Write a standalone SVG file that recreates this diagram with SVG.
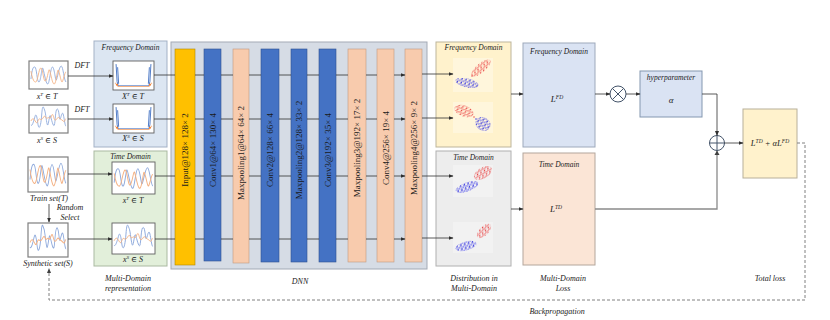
<svg xmlns="http://www.w3.org/2000/svg" width="830" height="320" viewBox="0 0 830 320">
<style>
text{font-family:"Liberation Serif","DejaVu Serif",serif;fill:#1a1a1a}
.it{font-style:italic}
.t7{font-size:7.5px}
.t8{font-size:8px}
.lay{font-size:9px}
.sig{fill:#fff;stroke:#7f7f7f;stroke-width:1.2}
.lnA{fill:none;stroke:#303030;stroke-width:0.8;marker-end:url(#ah)}
.gry{fill:none;stroke:#8a8a8a;stroke-width:1.3}
.dash{fill:none;stroke:#808080;stroke-width:1;stroke-dasharray:3 2}
.blu{fill:#4472c4;stroke:#2f528f;stroke-width:0.6}
.pea{fill:#f8cbad;stroke:#c09a80;stroke-width:0.6}
.yel{fill:#ffc000;stroke:#b08800;stroke-width:0.6}
.pb{fill:none;stroke:#8faadc;stroke-width:0.9;stroke-linejoin:round}
.po{fill:none;stroke:#f4b183;stroke-width:0.9;stroke-linejoin:round}
</style>
<defs>
<marker id="ah" markerWidth="5" markerHeight="4" refX="4.5" refY="2" orient="auto" markerUnits="userSpaceOnUse">
<path d="M0,0 L5,2 L0,4 Z" fill="#303030"/>
</marker>
<pattern id="rd" width="4" height="4" patternUnits="userSpaceOnUse">
<circle cx="0.9" cy="0.9" r="0.75" fill="#e83a3a"/><circle cx="3" cy="1.8" r="0.75" fill="#f05050"/><circle cx="1.6" cy="3.3" r="0.75" fill="#e83a3a"/>
</pattern>
<pattern id="bd" width="4" height="4" patternUnits="userSpaceOnUse">
<circle cx="1" cy="0.8" r="0.75" fill="#2222e0"/><circle cx="3.1" cy="1.9" r="0.75" fill="#3535f0"/><circle cx="1.4" cy="3.2" r="0.75" fill="#2222e0"/>
</pattern>
<symbol id="sigA" viewBox="0 0 40 28" preserveAspectRatio="none">
<path class="pb" d="M2,18 C3,10 4,5 6,6 S8,20 10,21 S13,6 14,7 S17,22 19,23 S22,6 24,6 S27,20 28,19 S31,5 33,5 S36,20 38,21"/>
<path class="po" d="M2,10 C3,16 5,22 7,21 S10,8 12,7 S15,22 17,20 S20,7 21,9 S24,24 26,23 S29,8 30,9 S33,22 34,21 S37,10 38,11"/>
</symbol>
<symbol id="sigB" viewBox="0 0 40 28" preserveAspectRatio="none">
<path class="pb" d="M2,20 C3,22 5,16 6,12 S8,10 9,18 S12,23 13,10 S15,3 16,5 S18,19 19,20 S21,8 22,11 S25,23 26,20 S27,4 29,4 S31,16 32,14 S34,6 35,9 S37,22 38,21"/>
<path class="po" d="M2,16 C4,12 5,14 7,17 S9,13 11,14 S13,15 15,12 S17,15 19,13 S21,16 23,11 S25,15 27,15 S29,11 31,13 S33,14 35,16 S37,13 38,14"/>
</symbol>
<symbol id="frq" viewBox="0 0 40 28" preserveAspectRatio="none">
<path d="M3,3 L4,20 L5,24 L35,24 L36,20 L37,3 M4.5,6 L5.5,22 M35.5,6 L34.5,22" fill="none" stroke="#4472c4" stroke-width="0.9"/>
<path d="M2,21 L5,24.6 L35,24.6 L38,21" fill="none" stroke="#f4b183" stroke-width="1"/>
<circle cx="4" cy="23" r="1" fill="#ed7d31"/><circle cx="36" cy="23" r="1" fill="#ed7d31"/>
</symbol>
</defs>

<!-- Input signals -->
<g id="xT">
<rect class="sig" x="29" y="61" width="39" height="28"/><use href="#sigA" x="29" y="61" width="39" height="28"/>
<text class="it t8" x="47" y="99" text-anchor="middle">x<tspan dy="-3" font-size="5">T</tspan><tspan dy="3"> ∈ T</tspan></text>
</g>
<g id="xS">
<rect class="sig" x="29" y="105" width="39" height="28"/><use href="#sigB" x="29" y="105" width="39" height="28"/>
<text class="it t8" x="47" y="143" text-anchor="middle">x<tspan dy="-3" font-size="5">S</tspan><tspan dy="3"> ∈ S</tspan></text>
</g>
<g id="trainSet">
<rect class="sig" x="28" y="157" width="40" height="35"/><use href="#sigA" x="28" y="157" width="40" height="35"/>
<text class="it t8" x="49" y="201" text-anchor="middle">Train set(T)</text>
</g>
<g id="randomSelect">
<text class="it t8" x="70" y="210" text-anchor="middle">Random</text>
<text class="it t8" x="70" y="220" text-anchor="middle">Select</text>
</g>
<g id="synthSet">
<rect class="sig" x="28" y="223" width="40" height="34"/><use href="#sigB" x="28" y="223" width="40" height="34"/>
<text class="it t8" x="48" y="266" text-anchor="middle">Synthetic set(S)</text>
</g>

<!-- Multi-domain representation -->
<g id="freqDomain">
<rect x="94" y="41" width="73" height="106" fill="#dce6f2" stroke="#a3b1c6" stroke-width="1"/>
<text class="it t7" x="130.5" y="50" text-anchor="middle">Frequency Domain</text>
<rect x="113" y="61" width="41" height="29" fill="#fff" stroke="#606060" stroke-width="0.9"/><use href="#frq" x="113" y="61" width="41" height="29"/>
<text class="it t8" x="133" y="99" text-anchor="middle">X<tspan dy="-3" font-size="5">T</tspan><tspan dy="3"> ∈ T</tspan></text>
<rect x="113" y="104" width="41" height="29" fill="#fff" stroke="#606060" stroke-width="0.9"/><use href="#frq" x="113" y="104" width="41" height="29"/>
<text class="it t8" x="133" y="141" text-anchor="middle">X<tspan dy="-3" font-size="5">S</tspan><tspan dy="3"> ∈ S</tspan></text>
</g>
<g id="timeDomain">
<rect x="94" y="151" width="73" height="115" fill="#e2efda" stroke="#aab9a1" stroke-width="1"/>
<text class="it t7" x="130.5" y="159" text-anchor="middle">Time Domain</text>
<rect x="112" y="162" width="43" height="32" fill="#fff" stroke="#606060" stroke-width="0.9"/><use href="#sigA" x="112" y="162" width="43" height="32"/>
<text class="it t8" x="133" y="203" text-anchor="middle">x<tspan dy="-3" font-size="5">T</tspan><tspan dy="3"> ∈ T</tspan></text>
<rect x="112" y="223" width="43" height="31" fill="#fff" stroke="#606060" stroke-width="0.9"/><use href="#sigB" x="112" y="223" width="43" height="31"/>
<text class="it t8" x="133" y="262" text-anchor="middle">x<tspan dy="-3" font-size="5">S</tspan><tspan dy="3"> ∈ S</tspan></text>
</g>
<g id="mdrLabel">
<text class="it t8" x="128" y="281" text-anchor="middle">Multi-Domain</text>
<text class="it t8" x="128" y="291" text-anchor="middle">representation</text>
</g>

<!-- DNN -->
<g id="dnn">
<rect x="171" y="42" width="256" height="227" fill="#d6dce5" stroke="#a3aab5" stroke-width="1"/>
<text class="it t8" x="300" y="284" text-anchor="middle">DNN</text>
</g>
<g id="input"><rect class="yel" x="175" y="49" width="20" height="216"/><text class="lay" transform="translate(188,150) rotate(-90)" text-anchor="middle">Input@128× 128× 2</text></g>
<g id="conv1"><rect class="blu" x="204" y="49" width="17" height="212"/><text class="lay" transform="translate(215.5,150) rotate(-90)" text-anchor="middle">Conv1@64× 130× 4</text></g>
<g id="mp1"><rect class="pea" x="233" y="49" width="16" height="214"/><text class="lay" transform="translate(244,153) rotate(-90)" text-anchor="middle">Maxpooling1@64× 64× 2</text></g>
<g id="conv2"><rect class="blu" x="261" y="49" width="18" height="213"/><text class="lay" transform="translate(273,150) rotate(-90)" text-anchor="middle">Conv2@128× 66× 4</text></g>
<g id="mp2"><rect class="blu" x="291" y="49" width="16" height="213"/><text class="lay" transform="translate(302,150) rotate(-90)" text-anchor="middle">Maxpooling2@128× 33× 2</text></g>
<g id="conv3"><rect class="blu" x="319" y="49" width="17" height="213"/><text class="lay" transform="translate(330.5,150) rotate(-90)" text-anchor="middle">Conv3@192× 35× 4</text></g>
<g id="mp3"><rect class="pea" x="348" y="49" width="18" height="213"/><text class="lay" transform="translate(360,148) rotate(-90)" text-anchor="middle">Maxpooling3@192× 17× 2</text></g>
<g id="conv4"><rect class="pea" x="377" y="49" width="17" height="213"/><text class="lay" transform="translate(388.5,148) rotate(-90)" text-anchor="middle">Conv4@256× 19× 4</text></g>
<g id="mp4"><rect class="pea" x="405" y="49" width="17" height="213"/><text class="lay" transform="translate(416.5,148) rotate(-90)" text-anchor="middle">Maxpooling4@256× 9× 2</text></g>

<!-- Distribution -->
<g id="distFreq">
<rect x="436" y="42" width="75" height="105" fill="#fff2cc" stroke="#bdb59c" stroke-width="1"/>
<text class="it t7" x="473.5" y="50" text-anchor="middle">Frequency Domain</text>
<rect x="453" y="58" width="40" height="34" fill="#fff6dc"/>
<rect x="453" y="102" width="40" height="31" fill="#fff6dc"/>
<ellipse cx="481" cy="68" rx="12" ry="4.5" transform="rotate(-40 481 68)" fill="url(#rd)"/>
<ellipse cx="467" cy="83" rx="12" ry="4.5" transform="rotate(12 467 83)" fill="url(#bd)"/>
<ellipse cx="464" cy="111" rx="10" ry="5.5" transform="rotate(20 464 111)" fill="url(#rd)"/>
<ellipse cx="483" cy="124" rx="8" ry="6.5" transform="rotate(30 483 124)" fill="url(#bd)"/>
<circle cx="474" cy="117" r="0.7" fill="#e83a3a"/><circle cx="476" cy="119" r="0.7" fill="#2222e0"/><circle cx="472" cy="76" r="0.7" fill="#e83a3a"/>
</g>
<g id="distTime">
<rect x="436" y="151" width="75" height="115" fill="#ededed" stroke="#b0b0b0" stroke-width="1"/>
<text class="it t7" x="473.5" y="160" text-anchor="middle">Time Domain</text>
<rect x="453" y="165" width="40" height="32" fill="#f2f2f2"/>
<rect x="453" y="222" width="40" height="31" fill="#f2f2f2"/>
<ellipse cx="483" cy="173" rx="10" ry="5.5" transform="rotate(-30 483 173)" fill="url(#rd)"/>
<ellipse cx="467" cy="187" rx="12" ry="4.5" transform="rotate(-20 467 187)" fill="url(#bd)"/>
<ellipse cx="484" cy="231" rx="9" ry="4.5" transform="rotate(-45 484 231)" fill="url(#rd)"/>
<ellipse cx="466" cy="246" rx="11" ry="4.5" transform="rotate(-15 466 246)" fill="url(#bd)"/>
</g>
<g id="distLabel">
<text class="it t8" x="474" y="281" text-anchor="middle">Distribution in</text>
<text class="it t8" x="474" y="291" text-anchor="middle">Multi-Domain</text>
</g>

<!-- Losses -->
<g id="lossFD">
<rect x="523" y="43" width="72" height="104" fill="#dae3f3" stroke="#9ea9bb" stroke-width="1"/>
<text class="it t7" x="559" y="54" text-anchor="middle">Frequency Domain</text>
<text class="it" font-size="9" x="557" y="102" text-anchor="middle">L<tspan dy="-3.5" font-size="5.5">FD</tspan></text>
</g>
<g id="lossTD">
<rect x="523" y="153" width="72" height="112" fill="#fbe5d6" stroke="#b3a69c" stroke-width="1"/>
<text class="it t7" x="559" y="167" text-anchor="middle">Time Domain</text>
<text class="it" font-size="9" x="556" y="212" text-anchor="middle">L<tspan dy="-3.5" font-size="5.5">TD</tspan></text>
</g>
<g id="lossLabel">
<text class="it t8" x="563" y="281" text-anchor="middle">Multi-Domain</text>
<text class="it t8" x="563" y="291" text-anchor="middle">Loss</text>
</g>

<g id="multiply">
<circle cx="618" cy="94" r="8" fill="#fff" stroke="#44546a" stroke-width="1"/>
<path d="M612.3,88.3 L623.7,99.7 M623.7,88.3 L612.3,99.7" stroke="#44546a" stroke-width="1"/>
</g>
<g id="hyper">
<rect x="640" y="71" width="62" height="46" fill="#dae3f3" stroke="#8497b0" stroke-width="1"/>
<text class="it t7" x="671" y="80" text-anchor="middle">hyperparameter</text>
<text class="it" font-size="9" x="671" y="103" text-anchor="middle">α</text>
</g>
<g id="plus">
<circle cx="717" cy="143" r="7.5" fill="#fff" stroke="#44546a" stroke-width="1"/>
<path d="M709.5,143 L724.5,143 M717,135.5 L717,150.5" stroke="#44546a" stroke-width="1"/>
</g>
<g id="total">
<rect x="743" y="109" width="54" height="69" fill="#fff2cc" stroke="#b8b09a" stroke-width="1"/>
<text class="it" font-size="8.5" x="770" y="146" text-anchor="middle">L<tspan dy="-3.5" font-size="5.5">TD</tspan><tspan dy="3.5"> + αL</tspan><tspan dy="-3.5" font-size="5.5">FD</tspan></text>
<text class="it t8" x="770" y="281" text-anchor="middle">Total loss</text>
</g>
<text id="backprop" class="it t8" x="557" y="314" text-anchor="middle">Backpropagation</text>

<!-- Connectors -->
<g id="connectors">
<path class="lnA" d="M68,76 H113"/>
<path class="lnA" d="M68,119 H113"/>
<path class="lnA" d="M68,174 H112"/>
<path class="lnA" d="M68,239 H112"/>
<path class="lnA" d="M49,204 V222"/>
<text class="it t8" x="82" y="68" text-anchor="middle">DFT</text>
<text class="it t8" x="82" y="112" text-anchor="middle">DFT</text>
<g id="rows">
<path class="lnA" d="M154,75 H175 M195,75 H204 M221,75 H233 M249,75 H261 M279,75 H291 M307,75 H319 M336,75 H348 M366,75 H377 M394,75 H405"/>
<path class="lnA" d="M154,119 H175 M195,119 H204 M221,119 H233 M249,119 H261 M279,119 H291 M307,119 H319 M336,119 H348 M366,119 H377 M394,119 H405"/>
<path class="lnA" d="M155,176 H175 M195,176 H204 M221,176 H233 M249,176 H261 M279,176 H291 M307,176 H319 M336,176 H348 M366,176 H377 M394,176 H405"/>
<path class="lnA" d="M155,239 H175 M195,239 H204 M221,239 H233 M249,239 H261 M279,239 H291 M307,239 H319 M336,239 H348 M366,239 H377 M394,239 H405"/>
</g>
<path class="lnA" d="M422,74 H453"/>
<path class="lnA" d="M422,118 H453"/>
<path class="lnA" d="M422,176 H453"/>
<path class="lnA" d="M422,238 H453"/>
<path class="lnA" d="M511,94 H523"/>
<path class="lnA" d="M511,209 H523"/>
<path class="lnA" d="M595,94 H610"/>
<path class="lnA" d="M626,94 H640"/>
<path class="lnA" d="M702,94 H717 V135.5"/>
<path class="gry" d="M595,209 H717 V151"/>
<path d="M714.5,155 L717,150.5 L719.5,155 Z" fill="#404040"/>
<path class="lnA" d="M724.5,143 H743"/>
<path class="dash" d="M797,143 H805 V300 H49 V272"/>
<path d="M47,273 L49,268 L51,273 Z" fill="#404040"/>
</g>
</svg>
